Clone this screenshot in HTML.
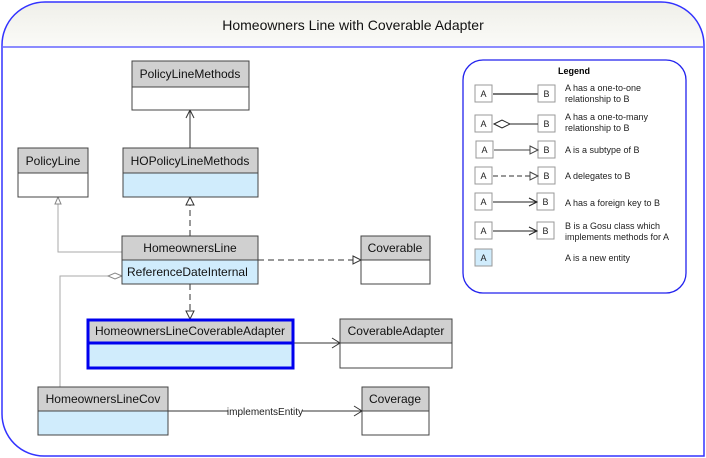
<!DOCTYPE html>
<html><head><meta charset="utf-8"><style>
html,body{margin:0;padding:0;background:#fff;}
svg{display:block;font-family:"Liberation Sans",Arial,sans-serif;}
</style></head><body>
<svg width="706" height="458" viewBox="0 0 706 458" xmlns="http://www.w3.org/2000/svg">
<defs>
<linearGradient id="hg" x1="0" y1="0" x2="0" y2="1"><stop offset="0" stop-color="#efefe9"/><stop offset="1" stop-color="#fbfbf8"/></linearGradient>
</defs>
<path d="M2,47 L2,45 A43,43 0 0 1 45,2 L661,2 A43,43 0 0 1 704,45 L704,47 Z" fill="url(#hg)"/>
<path d="M2,47 L2,414 A42,42 0 0 0 44,456 L704,456 L704,45 A43,43 0 0 0 661,2 L45,2 A43,43 0 0 0 2,45 Z" fill="none" stroke="#3333ff" stroke-width="1.5"/>
<line x1="2" y1="47" x2="704" y2="47" stroke="#6666ff" stroke-width="1.5"/>
<text x="353" y="30" font-size="14" text-anchor="middle" fill="#111">Homeowners Line with Coverable Adapter</text>

<g fill="none" stroke-width="1">
<polyline points="122,252 58,252 58,203" stroke="#aaa"/>
<path d="M55,204 L58,197 L61,204 Z" stroke="#888" fill="#fff"/>
<polyline points="108,276 60,276 60,387" stroke="#aaa"/>
<path d="M122,276 L115,273 L108,276 L115,279 Z" stroke="#888" fill="#fff"/>
<line x1="190" y1="148" x2="190" y2="111" stroke="#333"/>
<polyline points="186,118 190,110 194,118" stroke="#333"/>
<line x1="190" y1="236" x2="190" y2="205" stroke="#333" stroke-dasharray="6,4"/>
<path d="M186,205 L190,197 L194,205 Z" stroke="#333" fill="#fff"/>
<line x1="258" y1="260" x2="353" y2="260" stroke="#333" stroke-dasharray="6,4"/>
<path d="M353,256 L361,260 L353,264 Z" stroke="#333" fill="#fff"/>
<line x1="190" y1="284" x2="190" y2="311" stroke="#333" stroke-dasharray="6,4"/>
<path d="M186,311 L190,319 L194,311 Z" stroke="#333" fill="#fff"/>
<line x1="294" y1="343" x2="340" y2="343" stroke="#333"/>
<polyline points="332,338 340,343 332,348" stroke="#333"/>
<line x1="168" y1="411" x2="362" y2="411" stroke="#333"/>
<polyline points="354,406 362,411 354,416" stroke="#333"/>
</g>
<rect x="228" y="404" width="74" height="13" fill="#fff"/>
<text x="265" y="415" font-size="10" text-anchor="middle" fill="#222">implementsEntity</text>

<g stroke="#444" stroke-width="1">
<rect x="132" y="61" width="117" height="49" fill="#fff"/><rect x="132" y="61" width="117" height="26" fill="#d0d0d0"/>
<rect x="18" y="148" width="70" height="49" fill="#fff"/><rect x="18" y="148" width="70" height="25" fill="#d0d0d0"/>
<rect x="123" y="148" width="135" height="49" fill="#d0ecfc"/><rect x="123" y="148" width="135" height="25" fill="#d0d0d0"/>
<rect x="122" y="236" width="136" height="48" fill="#d0ecfc"/><rect x="122" y="236" width="136" height="24" fill="#d0d0d0"/>
<rect x="361" y="236" width="69" height="48" fill="#fff"/><rect x="361" y="236" width="69" height="24" fill="#d0d0d0"/>
<rect x="340" y="319" width="112" height="49" fill="#fff"/><rect x="340" y="319" width="112" height="24" fill="#d0d0d0"/>
<rect x="38" y="387" width="130" height="48" fill="#d0ecfc"/><rect x="38" y="387" width="130" height="24" fill="#d0d0d0"/>
<rect x="362" y="387" width="67" height="48" fill="#fff"/><rect x="362" y="387" width="67" height="24" fill="#d0d0d0"/>
</g>
<rect x="88" y="320" width="205" height="48" fill="#d0ecfc" stroke="#0000ee" stroke-width="3"/>
<rect x="88" y="320" width="205" height="23" fill="#d0d0d0" stroke="#0000ee" stroke-width="3"/>
<g font-size="12" fill="#111" text-anchor="middle">
<text x="190" y="78">PolicyLineMethods</text>
<text x="53" y="165">PolicyLine</text>
<text x="190" y="165">HOPolicyLineMethods</text>
<text x="190" y="252">HomeownersLine</text>
<text x="395" y="252">Coverable</text>
<text x="190" y="335">HomeownersLineCoverableAdapter</text>
<text x="396" y="335">CoverableAdapter</text>
<text x="103" y="403">HomeownersLineCov</text>
<text x="395" y="403">Coverage</text>
</g>
<text x="127" y="276" font-size="12" fill="#111" text-anchor="start">ReferenceDateInternal</text>

<rect x="463" y="60" width="223" height="233" rx="20" fill="#fff" stroke="#2222ee" stroke-width="1.3"/>
<text x="574" y="74" font-size="9" font-weight="bold" text-anchor="middle">Legend</text>
<g font-size="9" fill="#222">
<g stroke="#999" fill="#fff">
<rect x="475" y="85" width="17" height="17"/><rect x="538" y="85" width="17" height="17"/>
<rect x="475" y="115" width="17" height="17"/><rect x="538" y="115" width="17" height="17"/>
<rect x="476" y="141" width="17" height="17"/><rect x="538" y="141" width="17" height="17"/>
<rect x="475" y="167" width="17" height="17"/><rect x="538" y="167" width="17" height="17"/>
<rect x="475" y="193" width="17" height="17"/><rect x="537" y="193" width="17" height="17"/>
<rect x="475" y="222" width="17" height="17"/><rect x="537" y="222" width="17" height="17"/>
<rect x="475" y="249" width="17" height="17" fill="#d0ecfc"/>
</g>
<g fill="none">
<line x1="493" y1="94" x2="538" y2="94" stroke="#777" stroke-width="2"/>
<line x1="510" y1="124" x2="538" y2="124" stroke="#222"/>
<path d="M494,124 L502,120 L510,124 L502,128 Z" stroke="#222" fill="#fff"/>
<line x1="494" y1="150" x2="530" y2="150" stroke="#444"/>
<path d="M530,146 L538,150 L530,154 Z" stroke="#444" fill="#fff"/>
<line x1="493" y1="176" x2="530" y2="176" stroke="#777" stroke-width="1.5" stroke-dasharray="5,3"/>
<path d="M530,172 L538,176 L530,180 Z" stroke="#444" fill="#fff"/>
<line x1="493" y1="202" x2="537" y2="202" stroke="#222"/>
<polyline points="529,198 537,202 529,206" stroke="#222"/>
<line x1="493" y1="231" x2="537" y2="231" stroke="#222"/>
<polyline points="529,227 537,231 529,235" stroke="#222"/>
</g>
<g text-anchor="middle">
<text x="483.5" y="97">A</text><text x="546.5" y="97">B</text>
<text x="483.5" y="127">A</text><text x="546.5" y="127">B</text>
<text x="484.5" y="153">A</text><text x="546.5" y="153">B</text>
<text x="483.5" y="179">A</text><text x="546.5" y="179">B</text>
<text x="483.5" y="205">A</text><text x="545.5" y="205">B</text>
<text x="483.5" y="234">A</text><text x="545.5" y="234">B</text>
<text x="483.5" y="261">A</text>
</g>
<text x="565" y="91">A has a one-to-one</text><text x="565" y="102">relationship to B</text>
<text x="565" y="120">A has a one-to-many</text><text x="565" y="131">relationship to B</text>
<text x="565" y="153">A is a subtype of  B</text>
<text x="565" y="179">A delegates to B</text>
<text x="565" y="206">A has a foreign key to B</text>
<text x="565" y="229">B is a Gosu class which</text><text x="565" y="240">implements methods for A</text>
<text x="565" y="261">A is a new entity</text>
</g>
</svg>
</body></html>
